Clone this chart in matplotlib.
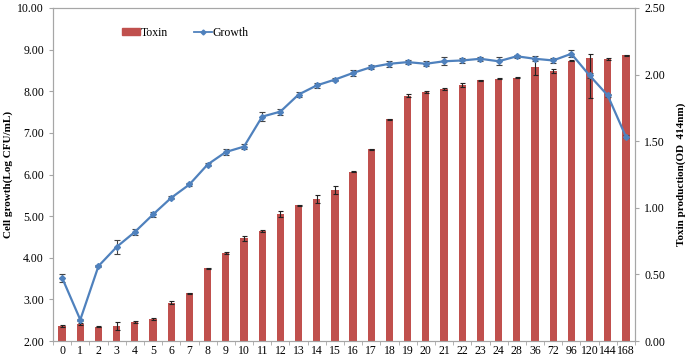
import numpy as np
import matplotlib
matplotlib.use('Agg')
import matplotlib.pyplot as plt
from matplotlib.patches import Patch
from matplotlib.lines import Line2D

plt.rcParams['font.family'] = ['Liberation Serif', 'DejaVu Serif']

hours = ['0', '1', '2', '3', '4', '5', '6', '7', '8', '9', '10', '11', '12', '13', '14', '15',
         '16', '17', '18', '19', '20', '21', '22', '23', '24', '28', '36', '72', '96', '120',
         '144', '168']

growth = [3.52, 2.51, 3.80, 4.26, 4.62, 5.04, 5.44, 5.76, 6.24, 6.54, 6.67, 7.39, 7.51, 7.92,
          8.14, 8.28, 8.44, 8.58, 8.66, 8.70, 8.66, 8.72, 8.74, 8.78, 8.72, 8.84, 8.78, 8.74,
          8.90, 8.38, 7.90, 6.91]
growth_err = [0.10, 0.03, 0.03, 0.16, 0.08, 0.06, 0.04, 0.03, 0.04, 0.08, 0.06, 0.10, 0.07,
              0.07, 0.05, 0.03, 0.08, 0.05, 0.07, 0.04, 0.06, 0.10, 0.05, 0.05, 0.10, 0.04,
              0.06, 0.07, 0.08, 0.06, 0.03, 0.03]

toxin = [0.112, 0.127, 0.108, 0.112, 0.142, 0.165, 0.287, 0.357, 0.546, 0.661, 0.771, 0.826,
         0.953, 1.018, 1.066, 1.130, 1.272, 1.438, 1.665, 1.842, 1.869, 1.891, 1.921, 1.957,
         1.969, 1.976, 2.054, 2.029, 2.104, 2.124, 2.117, 2.144]
toxin_err_lo = [0.005, 0.008, 0.005, 0.03, 0.006, 0.004, 0.01, 0.004, 0.005, 0.006, 0.02, 0.004,
                0.02, 0.005, 0.03, 0.03, 0.004, 0.004, 0.005, 0.01, 0.006, 0.01, 0.015, 0.006,
                0.004, 0.005, 0.06, 0.015, 0.005, 0.30, 0.006, 0.006]
toxin_err_hi = [0.005, 0.008, 0.005, 0.03, 0.006, 0.004, 0.01, 0.004, 0.005, 0.006, 0.02, 0.004,
                0.02, 0.005, 0.03, 0.03, 0.004, 0.004, 0.005, 0.01, 0.006, 0.01, 0.015, 0.006,
                0.004, 0.005, 0.06, 0.015, 0.005, 0.03, 0.006, 0.006]

red = '#C0504D'
blue = '#4F81BD'
grey = '#A6A6A6'
fs = 8.5

x = np.arange(len(hours))

fig = plt.figure(figsize=(6.88, 3.59), dpi=100)
ax = fig.add_axes([53 / 688, 18 / 359, 582 / 688, 333 / 359])
ax2 = ax.twinx()

# bars on the right axis
ax2.bar(x, toxin, width=0.4, color=red, zorder=2)
ax2.errorbar(x, toxin, yerr=[toxin_err_lo, toxin_err_hi], fmt='none', ecolor='#222222',
             elinewidth=0.8, capsize=1.8, capthick=0.8, zorder=3)
ax2.set_ylim(0, 2.5)
ax2.set_yticks(np.arange(0, 2.51, 0.5))
ax2.set_yticklabels(['%.2f' % v for v in np.arange(0, 2.51, 0.5)])
ax2.set_ylabel('Toxin production(OD  414nm)', fontweight='bold', fontsize=8, labelpad=8)

# growth line on the left axis, drawn above bars
ax.set_zorder(ax2.get_zorder() + 1)
ax.patch.set_visible(False)
ax.errorbar(x, growth, yerr=growth_err, fmt='none', ecolor='#444444', elinewidth=0.8,
            capsize=2, capthick=0.8, zorder=3)
ax.plot(x, growth, color=blue, lw=1.6, marker='D', markersize=3, zorder=4)
ax.set_ylim(2, 10)
ax.set_yticks(np.arange(2, 10.01, 1))
ax.set_yticklabels(['%.2f' % v for v in np.arange(2, 10.01, 1)])
ax.set_ylabel('Cell growth(Log CFU/mL)', fontweight='bold', fontsize=8, labelpad=3)

ax.set_xlim(-0.5, len(hours) - 0.5)
ax.set_xticks(x)
ax.set_xticklabels(hours)
ax.set_xticks(np.arange(-0.5, len(hours), 1), minor=True)
ax.tick_params(axis='x', which='major', length=0, labelsize=fs, pad=3)
ax.tick_params(axis='x', which='minor', length=3, color=grey)
ax.tick_params(axis='y', labelsize=fs, length=3, color=grey)
ax2.tick_params(axis='y', labelsize=fs, length=3, color=grey)

for a in (ax, ax2):
    for s in a.spines.values():
        s.set_color(grey)
        s.set_linewidth(0.8)

handles = [Patch(color=red), Line2D([], [], color=blue, lw=1.3, marker='D', markersize=2.5)]
ax.legend(handles, ['Toxin', 'Growth'], ncol=2, frameon=False, fontsize=fs,
          loc='upper left', bbox_to_anchor=(0.1, 0.975), handlelength=1.5,
          handleheight=0.5, handletextpad=0.1, columnspacing=2.2)

fig.savefig('out.png', dpi=100)
